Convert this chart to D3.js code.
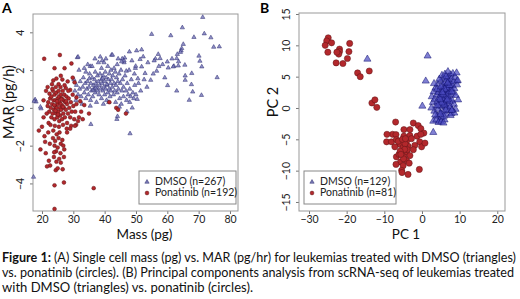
<!DOCTYPE html>
<html>
<head>
<meta charset="utf-8">
<script src="https://cdn.jsdelivr.net/npm/d3@7"></script>
<style>
  body { margin: 0; background: #fff; }
  text { font-family: Lato, "Open Sans", sans-serif; }
</style>
</head>
<body>
<div id="canvas"></div>
<script>
"use strict"

/* Panel A: single cell mass (pg) vs MAR (pg/h) */
let dmsoA = [
  [17.8,0.44],[18.1,0.32],[19.7,-0.04],[17.5,0.36],[19.5,0.05],[17.3,-3.66],[35.6,-0.87],[31.3,2.67],[31.5,2.7],[42.2,2.8],[39.2,2.5],[35.4,2.2],
  [30.5,0.9],[31,1.2],[31.5,0.7],[32,1.0],[32.2,1.4],[32.5,0.6],[33,1.1],[33.2,1.6],[33.5,0.8],[33.8,1.3],[34,0.5],[34,1.9],[31.8,2.0],[30.8,0.4],[32.8,0.2],[33.5,2.1],[34.3,1.0],[30.2,1.5],
  [34.5,1.4],[34.8,0.7],[35,1.1],[35.2,1.8],[35.5,0.4],[35.6,1.3],[35.8,0.9],[36,1.6],[36,2.2],[36.2,0.6],[36.4,1.2],[36.6,1.0],[36.8,1.5],[37,0.8],[37,1.9],[37.2,1.3],[37.4,0.3],[37.5,1.1],[37.7,1.7],[37.8,0.9],[38,1.4],[38,2.4],[34.6,2.3],[35.4,0.1],[36.9,2.6],[35.1,1.55],[36.3,0.95],[37.1,1.05],
  [38.2,0.7],[38.4,1.2],[38.5,1.8],[38.7,1.0],[38.9,1.5],[39,0.5],[39,2.1],[39.2,1.3],[39.4,0.9],[39.5,1.7],[39.7,1.1],[39.8,2.4],[40,0.7],[40,1.4],[40.2,1.9],[40.3,1.0],[40.5,1.6],[40.6,0.4],[40.8,1.2],[41,2.2],[41,0.8],[41.2,1.5],[41.4,1.0],[41.5,1.8],[41.7,0.6],[41.8,1.3],[42,2.0],[42,0.9],[38.6,2.7],[39.6,0.2],[40.4,2.6],[41.3,0.3],[39.3,1.55],[40.7,1.25],
  [42.2,1.5],[42.4,1.1],[42.6,1.7],[42.8,0.7],[43,1.3],[43,2.1],[43.2,0.9],[43.4,1.9],[43.6,1.2],[43.8,1.6],[44,0.8],[44,2.3],[44.2,1.4],[44.4,1.0],[44.6,1.8],[44.8,0.5],[45,1.3],[45.2,2.0],[45.5,0.9],[45.7,1.5],[46,0.6],[46,1.1],[42.5,2.8],[43.5,0.3],[44.3,2.6],[45.3,0.2],[46.2,2.4],[44.7,0.05],[43.9,-0.6],[44.1,-0.45],
  [46.5,1.7],[46.8,0.9],[47,0.4],[47.2,1.3],[47.5,0.7],[47.8,2.0],[48,0.3],[48,1.0],[48.3,0.6],[48.5,1.5],[48.8,0.0],[49,0.8],[49.3,0.5],[49.6,1.2],[50,0.7],[47.1,-0.2],[48.1,-1.36],[46.4,2.65],[49.8,2.1],[50.4,0.46],
  [71.3,4.8],[55,3.9],[64.8,4.25],[61.1,3.83],[68.5,3.74],[71.8,3.93],[73.9,3.72],[65.1,3.37],[74.8,3.22],[76.6,3.24],[64.6,3.15],[64.4,3.03],[64.2,2.95],
  [47.9,2.97],[50.2,3.03],[51.8,3.08],[45.6,2.6],[46.2,2.5],[45.4,2.45],[52.3,2.71],[51.3,2.57],[57.1,2.84],[57.7,2.62],[56.2,2.6],[55.8,2.5],[60,2.44],[63.2,2.84],[63,2.62],[63.6,2.45],[62.1,2.21],
  [70.1,2.75],[70.4,2.48],[65.6,2.27],[71,2.18],[49.9,2.21],[51.8,2.18],[56.6,1.95],[60.3,2.12],[61.9,2.18],[63.5,2.23],[67.8,1.83],[52.9,1.83],[65.7,1.7],[75.9,1.61],[65.7,1.47],[54.7,1.47],
  [60.1,1.19],[67.7,1.24],[63,0.9],[68.1,0.85],[70.9,0.67],[67,0.41],[52.6,1.5],[53.5,1.1],[50.8,1.3],[51.5,0.9],[55.5,1.8],[58.5,2.3],[59.2,1.6],[53.8,2.4],[48.7,2.5],[49.5,1.8],[50.6,1.55],[46.9,1.95],[57.3,2.2],[61.5,2.6]
];
let ponaA = [
  [20.7,2.6],[25.7,2.8],[29.4,2.35],[24,2.1],[27.2,2.1],[21.8,1.1],[24.6,1.55],[26.5,1.5],[28.2,1.4],[23.2,1.25],[26,1.7],[30.4,1.35],[29,0.95],[22.4,0.75],[25.3,1.25],[27.6,1.05],[31,0.55],[32.2,0.35],[20.5,0.4],[21.3,0.9],[29.8,1.6],[23.6,1.45],
  [22,0.3],[22.3,-0.2],[22.6,0.5],[22.8,0.0],[23,-0.5],[23,0.6],[23.2,0.2],[23.4,-0.3],[23.5,0.9],[23.7,0.4],[23.8,-0.1],[24,0.7],[24,-0.6],[24.2,0.1],[24.3,0.4],[24.5,-0.3],[24.6,0.8],[24.7,0.0],[24.9,-0.5],[25,0.5],[25,0.2],[25.2,-0.2],[25.3,0.9],[25.4,0.6],[25.5,-0.7],[25.6,0.3],[25.7,0.0],[25.8,-0.4],
  [26,0.7],[26,0.2],[26.1,-0.1],[26.3,0.5],[26.4,-0.6],[26.5,0.1],[26.6,0.9],[26.8,-0.3],[26.9,0.4],[27,0.0],[27.1,0.7],[27.3,-0.5],[27.4,0.3],[27.6,-0.1],[27.8,0.6],[28,0.2],[28,-0.8],[28.3,-0.3],[28.5,0.5],[28.7,0.0],[29,-0.5],[29.2,0.3],[29.5,-0.2],[29.8,0.7],[30,0.1],[30.3,-0.6],[30.6,-0.2],[31,0.2],
  [21.5,-0.3],[21.8,0.1],[22.1,-0.8],[23.3,1.0],[24.4,1.1],[25.9,1.1],[27.2,1.2],[28.4,0.9],[22.7,-0.9],[24.1,-0.95],[25.4,-1.0],[26.7,-0.9],[27.9,-1.1],[29.3,-0.95],[30.9,-0.9],[31.8,-0.5],[32.5,-0.2],[33.5,0.15],[24.8,0.35],[25.1,-0.35],[26.2,0.45],[24.3,-0.15],[27.7,0.35],[23.9,0.15],[26.7,0.05],
  [19,-1.2],[20,-1.0],[20.8,-1.5],[22,-1.3],[19.5,-2.2],[21,-1.8],[23.5,-1.6],[24,-2.0],[24.5,-2.3],[23.8,-2.6],[25,-2.1],[26.5,-1.7],[28,-1.3],[29,-1.1],[30.5,-0.95],[20.5,-0.5],[22.2,-2.8],[22.6,-3.05],[24.4,-3.3],[25,-3.2],[26,-2.9],[26.6,-3.25],[27,-2.6],[25.5,-2.7],[27.1,-2.2],[21.6,-3.1],
  [24,-4.1],[27,-3.95],[36.5,-4.25],[24,-5.35],[23.6,-1.2],[24.7,-1.4],[25.6,-1.3],[26,-1.9],[24.2,-1.75],[25.3,-1.6],[23.9,-2.35],[26.8,-2.0],[22.5,-1.9],[21.2,-2.4],[25.9,-2.4],[24.6,-2.85],[31.5,-0.7],[43.7,0.0],[46.8,-0.3],[44.3,-0.1],[41.5,0.3],[35,-0.3],[33,-0.6]
];

/* Panel B: PCA of scRNA-seq */
let dmsoB = [
  [1.5,8.3],[-14.5,7.8],[1.0,4.3],[0.1,0.3],[3.0,-3.9],[9.3,4.3],
  [2.6,1.8],[2.9,0.9],[3.1,2.6],[3.3,-0.5],[3.4,1.4],[3.6,3.2],[3.7,0.3],[3.9,2.1],[4.0,-1.3],[4.1,1.0],[4.2,3.8],[4.3,-0.2],[4.4,2.5],[4.5,1.6],[4.6,-2.0],[4.7,0.6],[4.8,3.0],[4.9,-0.8],[5.0,2.0],[5.0,4.3],[5.1,1.2],[5.2,-1.5],[5.3,2.8],[5.4,0.2],
  [5.5,3.6],[5.5,1.7],[5.6,-0.6],[5.7,2.4],[5.8,4.8],[5.8,0.9],[5.9,3.2],[6.0,-1.9],[6.0,1.5],[6.1,2.7],[6.2,4.1],[6.2,0.4],[6.3,3.5],[6.4,2.0],[6.4,-1.0],[6.5,1.1],[6.6,4.6],[6.6,2.9],[6.7,0.0],[6.8,3.8],[6.8,1.8],[6.9,2.4],[7.0,5.0],[7.0,0.7],[7.1,3.3],
  [7.2,-0.4],[7.2,4.3],[7.3,1.4],[7.4,2.7],[7.5,3.9],[7.5,0.2],[7.6,5.3],[7.7,2.1],[7.8,-0.9],[7.8,4.6],[7.9,3.0],[8.0,1.2],[8.1,3.6],[8.2,5.5],[8.3,2.4],[8.4,4.2],[8.5,0.6],[8.6,3.1],[8.8,4.9],[9.0,2.0],[9.2,5.6],[9.3,3.7],[8.9,-0.2],[9.5,4.4],
  [3.0,-2.1],[3.8,-1.9],[4.4,-2.3],[5.1,-2.2],[5.7,-2.4],[4.0,3.0],[4.6,4.6],[5.3,5.2],[6.1,5.4],[6.9,5.8],[7.4,1.0],[6.3,-0.3],[5.9,0.5],[5.2,0.8],[4.8,1.4],[5.6,2.2],[6.5,3.2],[7.3,3.6],[6.0,3.0],[5.4,2.5],[6.7,1.3],[7.9,2.6],[6.8,4.0],[5.0,3.4],[4.2,0.4],[3.5,-1.1],
  [8.6,-0.8],[7.6,-1.2],[2.5,0.0],[3.2,3.9],[9.6,1.3],[8.0,-0.3],[6.4,5.0],[5.8,-1.3],[4.9,-1.0],[7.9,-0.4]
];
let ponaB = [
  [-24.9,11.2],[-25.3,10.7],[-25.7,10.0],[-24,10.4],[-25,8.9],[-21.9,9.4],[-21.9,9.0],[-22.1,8.6],[-22.6,8.9],[-21,7.1],[-22.8,7.2],[-19.2,10.3],[-19.4,9.0],[-19.8,7.9],[-17.1,5.6],[-16.4,5.0],[-14,5.9],[-13.3,0.8],[-12.5,1.3],[-12,0.1],
  [-7.0,-2.24],[-2.3,-2.4],[-1.0,-2.8],[-0.3,-3.3],[0.5,-4.0],[-4.8,-3.45],[-3.2,-3.45],[-7.8,-4.2],[-6.9,-4.25],[-9.3,-4.2],[-9.4,-5.4],[-8.1,-5.4],[-6.8,-5.05],[-4.8,-4.5],[-3.2,-4.4],[-4.1,-5.3],[-2.8,-4.9],[-1.3,-4.5],[-0.3,-4.2],[-0.6,-5.4],
  [-1.9,-5.96],[-0.1,-6.2],[0.8,-5.6],[-5.9,-5.8],[-5,-6.3],[-3.7,-6.1],[-7.2,-6.2],[-5.4,-7.0],[-4.1,-7.0],[-3.2,-7.6],[-6.8,-7.8],[-4.8,-7.8],[-4.1,-8.4],[-5.7,-8.6],[-6.9,-9.0],[-5,-9.2],[-3.4,-8.8],[-0.7,-9.8],[-5.4,-9.96],[-5.3,-10.3],
  [-3.7,-10.6],[-6.3,-5.3],[-4.5,-5.7],[-3.9,-6.65],[-2.3,-6.65],[-6.1,-7.4],[-4.6,-6.6],[-5.2,-5.0],[-4.4,-4.9],[-5.8,-6.9],[-4.9,-8.1],[-5.6,-7.4]
];

let xTicksA = [20, 30, 40, 50, 60, 70, 80];
let yTicksA = [-4, -2, 0, 2, 4];
let xTicksB = [-30, -20, -10, 0, 10, 20];
let yTicksB = [-15, -10, -5, 0, 5, 10, 15];

let captionLines = [
  "(A) Single cell mass (pg) vs. MAR (pg/hr) for leukemias treated with DMSO (triangles)",
  "vs. ponatinib (circles). (B) Principal components analysis from scRNA-seq of leukemias treated",
  "with DMSO (triangles) vs. ponatinib (circles)."
];

let svgWidth = 520;
let svgHeight = 299;

let svg = d3.select("#canvas")
  .append("svg")
  .attr("width", svgWidth)
  .attr("height", svgHeight);

/* draws one scatter panel */
function drawPanel(p) {
  let xScale = d3.scaleLinear().domain(p.xDomain).range([p.left, p.right]);
  let yScale = d3.scaleLinear().domain(p.yDomain).range([p.bottom, p.top]);

  /* x axis */
  let gx = svg.append("g")
    .attr("transform", "translate(0," + p.bottom + ")")
    .call(d3.axisBottom(xScale).tickValues(p.xTicks).tickSize(3).tickPadding(2).tickFormat(d => String(d).replace("-", "\u2212")));
  /* y axis, labels turned like R's */
  let gy = svg.append("g")
    .attr("transform", "translate(" + p.left + ",0)")
    .call(d3.axisLeft(yScale).tickValues(p.yTicks).tickSize(3).tickFormat(d => String(d).replace("-", "\u2212")));
  gy.selectAll(".tick text")
    .attr("x", null).attr("dy", null)
    .attr("text-anchor", "middle")
    .attr("transform", "translate(-9,0) rotate(-90)");
  [gx, gy].forEach(function (g) {
    g.select(".domain").remove();
    g.selectAll(".tick line").attr("stroke", "#777");
    g.selectAll(".tick text").attr("fill", "#222").style("font-size", "10.5px").style("font-family", "Lato, sans-serif");
  });

  /* plot box */
  svg.append("rect")
    .attr("x", p.left).attr("y", p.top)
    .attr("width", p.right - p.left).attr("height", p.bottom - p.top)
    .attr("fill", "none").attr("stroke", "#999").attr("stroke-width", 1);

  /* points: DMSO triangles, ponatinib circles */
  svg.append("g").selectAll("path")
    .data(p.dmso)
    .join("path")
    .attr("d", d3.symbol(d3.symbolTriangle, p.triSize))
    .attr("transform", d => "translate(" + xScale(d[0]) + "," + yScale(d[1]) + ")")
    .attr("fill", p.triFill).attr("fill-opacity", p.triOpacity)
    .attr("stroke", p.triStroke).attr("stroke-width", 0.5);

  svg.append("g").selectAll("circle")
    .data(p.pona)
    .join("circle")
    .attr("cx", d => xScale(d[0]))
    .attr("cy", d => yScale(d[1]))
    .attr("r", p.dotR)
    .attr("fill", "#b3282c")
    .attr("stroke", "#5e1416").attr("stroke-width", 0.5);

  /* axis titles */
  svg.append("text")
    .attr("x", (p.left + p.right) / 2 + p.xTitleShift)
    .attr("y", 239)
    .attr("text-anchor", "middle")
    .style("font-size", "13.5px")
    .attr("fill", "#111")
    .text(p.xTitle);
  svg.append("text")
    .attr("transform", "translate(" + p.yTitleX + ",102) rotate(-90)")
    .attr("text-anchor", "middle")
    .attr("dominant-baseline", "middle")
    .style("font-size", "14.5px")
    .attr("fill", "#111")
    .text(p.yTitle);

  /* panel letter */
  svg.append("text")
    .attr("x", p.letterX).attr("y", 13)
    .style("font-size", "14px").style("font-weight", "bold")
    .text(p.letter);

  /* legend */
  let lg = p.legend;
  svg.append("rect")
    .attr("x", lg.x).attr("y", lg.y).attr("width", lg.w).attr("height", lg.h)
    .attr("fill", "#fff").attr("stroke", "#888");
  svg.append("path")
    .attr("d", d3.symbol(d3.symbolTriangle, 8))
    .attr("transform", "translate(" + (lg.x + 8) + "," + (lg.y + 11) + ")")
    .attr("fill", "#7b7bb8").attr("stroke", "#2a2a6a").attr("stroke-width", 0.5);
  svg.append("circle")
    .attr("cx", lg.x + 8).attr("cy", lg.y + 22).attr("r", 1.9)
    .attr("fill", "#b3282c").attr("stroke", "#5e1416").attr("stroke-width", 0.5);
  lg.labels.forEach(function (t, i) {
    svg.append("text")
      .attr("x", lg.x + 16).attr("y", lg.y + 11 + i * 11)
      .attr("dominant-baseline", "middle")
      .style("font-size", "10.5px")
      .attr("fill", "#222")
      .text(t);
  });
}

drawPanel({
  left: 33, right: 238, top: 14, bottom: 211,
  xDomain: [17.13, 82.56], yDomain: [-5.46, 4.97],
  xTicks: xTicksA, yTicks: yTicksA,
  dmso: dmsoA, pona: ponaA,
  triSize: 8, triFill: "#7c7cbc", triOpacity: 0.85, triStroke: "#2a2a70", dotR: 1.9,
  xTitle: "Mass (pg)", xTitleShift: 9, yTitle: "MAR (pg/h)", yTitleX: 10,
  letter: "A", letterX: 2,
  legend: { x: 139, y: 171, w: 97, h: 33, labels: ["DMSO (n=267)", "Ponatinib (n=192)"] }
});

drawPanel({
  left: 299, right: 505, top: 13, bottom: 211,
  xDomain: [-32.66, 22.05], yDomain: [-16.44, 15.16],
  xTicks: xTicksB, yTicks: yTicksB,
  dmso: dmsoB, pona: ponaB,
  triSize: 22, triFill: "#4a4ac0", triOpacity: 0.7, triStroke: "#10106e", dotR: 3.1,
  xTitle: "PC 1", xTitleShift: 4, yTitle: "PC 2", yTitleX: 274,
  letter: "B", letterX: 260,
  legend: { x: 304, y: 171, w: 92, h: 33, labels: ["DMSO (n=129)", "Ponatinib (n=81)"] }
});

/* caption */
let capWidths = [514, 512, 251];
captionLines.forEach(function (line, i) {
  let t = svg.append("text")
    .attr("x", 2)
    .attr("y", 262 + i * 15)
    .attr("textLength", capWidths[i])
    .attr("lengthAdjust", "spacingAndGlyphs")
    .style("font-size", "12.5px")
    .attr("fill", "#111");
  if (i == 0) {
    t.append("tspan").style("font-weight", "bold").text("Figure 1: ");
  }
  t.append("tspan").text(line);
});
</script>
</body>
</html>
